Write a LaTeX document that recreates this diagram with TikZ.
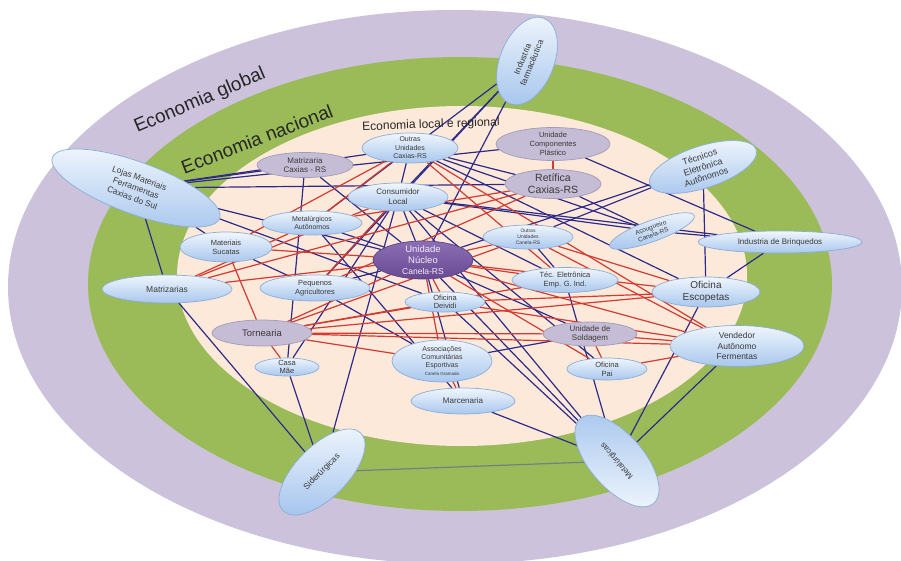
\documentclass[tikz,border=0pt]{standalone}
\usepackage{fontspec}
\setmainfont{Liberation Sans}
\usetikzlibrary{shapes.geometric}
\definecolor{ringpurple}{HTML}{CCC2DC}
\definecolor{ringgreen}{HTML}{9BBB59}
\definecolor{cream}{HTML}{FDE9D9}
\definecolor{ntop}{HTML}{F0F6FD}
\definecolor{nbot}{HTML}{A9C7EE}
\definecolor{nbord}{HTML}{8AADD8}
\definecolor{gfill}{HTML}{C5BCD5}
\definecolor{gbord}{HTML}{A39BB8}
\definecolor{nuctop}{HTML}{8C6EB5}
\definecolor{nucbot}{HTML}{684A93}
\definecolor{nucbord}{HTML}{5A4282}
\definecolor{ntext}{HTML}{3A3A3A}
\definecolor{lblue}{HTML}{2E2A8A}
\definecolor{lred}{HTML}{D23A32}
\definecolor{lgray}{HTML}{6F8282}
\pgfdeclarelayer{rings}
\pgfdeclarelayer{edges}
\pgfsetlayers{rings,edges,main}
\newcommand\fsz[2]{\fontsize{#1}{#2}\selectfont}
\begin{document}
\begin{tikzpicture}[x=1pt,y=-1pt,
  base/.style={ellipse, line width=0.7pt, inner sep=-12pt, align=center, text=ntext},
  bnode/.style={base, draw=nbord, top color=ntop, bottom color=nbot},
  gnode/.style={base, draw=gbord, fill=gfill},
  nnode/.style={base, draw=nucbord, top color=nuctop, bottom color=nucbot, text=white!92!violet},
  ringlbl/.style={text=black!85, inner sep=0pt},
  bl/.style={draw=lblue, line width=1.2pt},
  rd/.style={draw=lred, line width=1.2pt},
  gl/.style={draw=lgray, line width=1.2pt}]
\useasboundingbox (0,0) rectangle (901,561);
\begin{pgfonlayer}{rings}
\fill[white] (0,0) rectangle (901,561);
\fill[ringpurple] (455,287) ellipse [x radius=447pt, y radius=277pt];
\fill[ringgreen] (460,284) ellipse [x radius=372pt, y radius=227pt];
\fill[cream] (462,276) ellipse [x radius=285pt, y radius=170pt];
\end{pgfonlayer}

% ring labels
\node[ringlbl, rotate=23, font=\fsz{19}{22}] (eglob) at (200,101) {Economia global};
\node[ringlbl, rotate=21, font=\fsz{19}{22}] (enac) at (257,139) {Economia nacional};
\node[ringlbl, rotate=2, font=\fsz{12}{14}] (eloc) at (431,125) {Economia local e regional};

% nodes
\node[bnode, rotate=68, minimum width=92pt, minimum height=54pt, font=\fsz{8.5}{10}] (farm) at (527,61) {Industria\\farmacêutica};
\node[bnode, rotate=-20, minimum width=178pt, minimum height=52pt, font=\fsz{8.5}{10.5}] (lojas) at (136,188) {Lojas Materiais\\Ferramentas\\Caxias do Sul};
\node[gnode, minimum width=96pt, minimum height=25pt, font=\fsz{8}{9.5}] (matcx) at (305,165) {Matrizaria\\Caxias - RS};
\node[bnode, minimum width=96pt, minimum height=30pt, font=\fsz{7}{8.5}] (oucx) at (410,148) {Outras\\Unidades\\Caxias-RS};
\node[gnode, minimum width=114pt, minimum height=33pt, font=\fsz{7.5}{9}] (comp) at (553,144) {Unidade\\Componentes\\Plástico};
\node[gnode, minimum width=96pt, minimum height=29pt, font=\fsz{10.5}{12}] (ret) at (553,184) {Retífica\\Caxias-RS};
\node[bnode, rotate=18, minimum width=112pt, minimum height=42pt, font=\fsz{9}{10.5}] (tec) at (703,167) {Técnicos\\Eletrônica\\Autônomos};
\node[bnode, minimum width=100pt, minimum height=28pt, font=\fsz{8}{10}] (cons) at (398,197) {Consumidor\\Local};
\node[bnode, minimum width=100pt, minimum height=24pt, font=\fsz{7}{8.5}] (meta) at (312,223) {Metalúrgicos\\Autônomos};
\node[bnode, minimum width=92pt, minimum height=30pt, font=\fsz{7.5}{9}] (suc) at (226,247) {Materiais\\Sucatas};
\node[nnode, minimum width=100pt, minimum height=38pt, font=\fsz{9.5}{11}] (nuc) at (423,260) {Unidade\\Núcleo\\{\fsz{8.5}{10}Canela-RS}};
\node[bnode, minimum width=90pt, minimum height=24pt, font=\fsz{5}{6}] (oucn) at (528,237) {Outras\\Unidades\\Canela-RS};
\node[bnode, rotate=20, minimum width=90pt, minimum height=21pt, font=\fsz{6.5}{7.5}] (acou) at (652,231) {Açougueiro\\Canela-RS};
\node[bnode, minimum width=164pt, minimum height=22pt, font=\fsz{8}{9.5}] (brinq) at (780,242) {Industria de Brinquedos};
\node[bnode, minimum width=130pt, minimum height=28pt, font=\fsz{8.5}{10}] (matz) at (167,289) {Matrizarias};
\node[bnode, minimum width=110pt, minimum height=26pt, font=\fsz{7.5}{9}] (peq) at (315,288) {Pequenos\\Agricultores};
\node[bnode, minimum width=106pt, minimum height=25pt, font=\fsz{7.5}{9}] (tecg) at (565,280) {Téc. Eletrônica\\Emp. G. Ind.};
\node[bnode, minimum width=108pt, minimum height=30pt, font=\fsz{10}{11.5}] (esc) at (706,292) {Oficina\\Escopetas};
\node[bnode, minimum width=80pt, minimum height=20pt, font=\fsz{7.5}{8.5}] (dei) at (445,302) {Oficina\\Deividi};
\node[gnode, minimum width=100pt, minimum height=26pt, font=\fsz{9.5}{11}] (torn) at (262,333) {Tornearia};
\node[gnode, minimum width=94pt, minimum height=24pt, font=\fsz{8}{9.5}] (sold) at (590,334) {Unidade de\\Soldagem};
\node[bnode, minimum width=134pt, minimum height=41pt, font=\fsz{8.5}{10.5}] (vend) at (737,346) {Vendedor\\Autônomo\\Fermentas};
\node[bnode, minimum width=64pt, minimum height=18pt, font=\fsz{7.5}{8}] (casa) at (287,367) {Casa\\Mãe};
\node[bnode, minimum width=100pt, minimum height=42pt, font=\fsz{7}{8.3}] (assoc) at (442,361) {Associações\\Comunitárias\\Esportivas\\{\fsz{4.5}{6}Canela Gramado}};
\node[bnode, minimum width=80pt, minimum height=22pt, font=\fsz{7.5}{9}] (pai) at (607,369) {Oficina\\Pai};
\node[bnode, minimum width=104pt, minimum height=26pt, font=\fsz{8}{9.5}] (marc) at (463,401) {Marcenaria};
\node[bnode, rotate=45, minimum width=110pt, minimum height=52pt, font=\fsz{8.5}{10}] (sid) at (322,472) {Siderúrgicas};
\node[bnode, rotate=131, top color=nbot, bottom color=ntop, minimum width=112pt, minimum height=54pt, font=\fsz{8}{10}] (metg) at (617,461) {Metalúrgicas};

% connectors
\begin{pgfonlayer}{edges}
\foreach \a/\b in {lojas/oucx, lojas/matcx, lojas/ret, lojas/comp, lojas/dei, lojas/suc,
  lojas/matz, lojas/nuc, matcx/casa, matcx/nuc, oucx/cons, oucx/ret, oucx/acou, oucx/esc,
  farm/cons, farm/nuc, farm/peq, farm/meta, cons/peq, cons/nuc, cons/pai, cons/acou,
  cons/metg, cons/casa, cons/tecg, cons/brinq, sid/cons, sid/casa, sid/matz, meta/marc,
  meta/nuc, suc/peq, peq/nuc, peq/assoc, nuc/marc, nuc/metg, nuc/tec, nuc/sold,
  dei/metg, assoc/sold, tecg/metg, oucn/tecg, oucn/tec, marc/metg, esc/metg, vend/metg,
  tec/esc, brinq/acou, brinq/esc, brinq/comp, ret/acou}
  \draw[bl] (\a) -- (\b);
\draw[gl] (sid) -- (metg);
\foreach \a/\b in {comp/ret, ret/matz, ret/meta, oucx/suc, oucx/meta, oucx/vend, oucx/tecg,
  cons/peq, cons/matz, suc/nuc, suc/torn, matz/meta, matz/nuc, torn/nuc, torn/tecg,
  torn/sold, torn/vend, torn/assoc, torn/casa, torn/oucn, torn/dei, torn/esc, peq/ret,
  nuc/esc, nuc/vend, nuc/oucn, nuc/tecg, nuc/dei, nuc/assoc, nuc/pai, oucn/esc, oucn/vend,
  dei/esc, assoc/marc, sold/vend, pai/vend, sold/pai, dei/vend}
  \draw[rd] (\a) -- (\b);
\end{pgfonlayer}
\end{tikzpicture}
\end{document}
